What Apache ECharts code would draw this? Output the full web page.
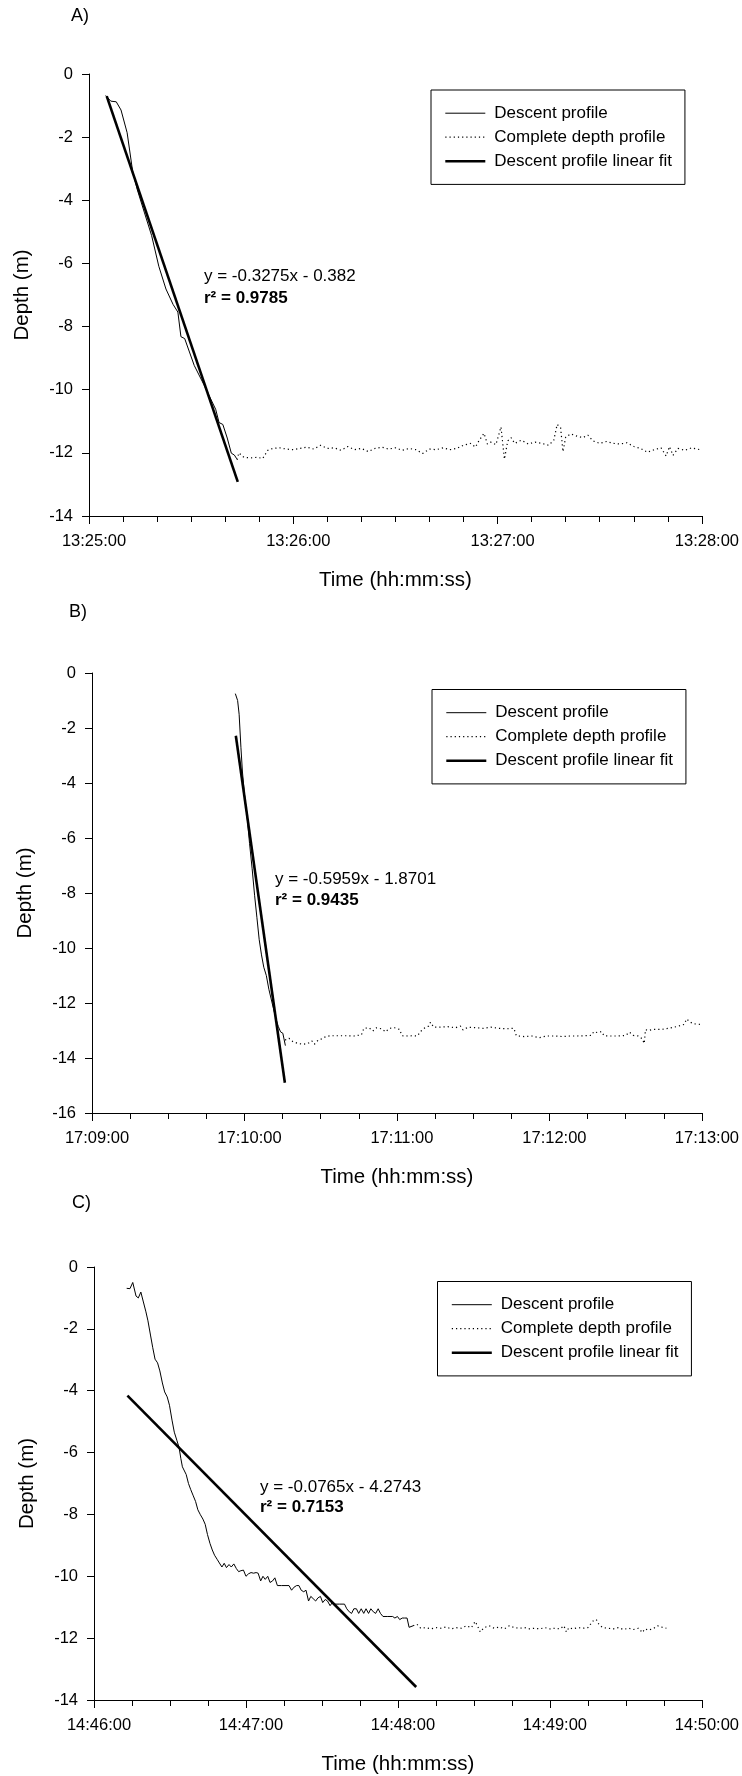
<!DOCTYPE html>
<html>
<head>
<meta charset="utf-8">
<script src="https://cdn.jsdelivr.net/npm/echarts@6/dist/echarts.min.js"></script>
<style>
html,body{margin:0;padding:0;background:#fff;}
#chart{width:742px;height:1776px;}
</style>
</head>
<body>
<div id="chart"></div>
<script>
// ---------- DATA (time in seconds after the first axis tick, depth in m) ----------
const panelTitles = ['A)', 'B)', 'C)'];
const axisStartSeconds = [13*3600+25*60, 17*3600+9*60, 14*3600+46*60];
const axisSpanSeconds = [180, 240, 240];
const minorSplits = [6, 4, 4];
const depthMin = [-14, -16, -14];
const equations = ['y = -0.3275x - 0.382', 'y = -0.5959x - 1.8701', 'y = -0.0765x - 4.2743'];
const r2Values = ['0.9785', '0.9435', '0.7153'];
const seriesNames = ['Descent profile', 'Complete depth profile', 'Descent profile linear fit'];

const descentA = [[4.9,-0.68],[6.4,-0.86],[8.0,-0.88],[9.4,-1.14],[11.2,-1.86],[12.8,-3.07],[14.2,-3.67],[16.3,-4.40],[18.4,-5.12],[20.5,-6.09],[22.6,-6.81],[24.7,-7.30],[26.1,-7.54],[27.0,-8.32],[28.1,-8.38],[30.9,-9.23],[33.7,-9.83],[37.2,-10.62],[38.2,-11.04],[39.3,-11.10],[40.6,-11.53],[41.8,-12.01],[42.7,-12.07],[43.4,-12.19]];
const completeA = [[43.5,-12.22],[44.0,-12.00],[45.5,-12.14],[47.5,-12.16],[49.5,-12.14],[51.0,-12.18],[52.5,-11.92],[54,-11.86],[56,-11.84],[58,-11.88],[60,-11.90],[62,-11.86],[64,-11.82],[66,-11.88],[68,-11.76],[70,-11.86],[72,-11.84],[74,-11.92],[76,-11.80],[78,-11.90],[80,-11.86],[82,-11.96],[84,-11.86],[86,-11.82],[88,-11.88],[90,-11.84],[92,-11.92],[94,-11.86],[96,-11.90],[98,-12.02],[100,-11.88],[102,-11.90],[104,-11.84],[106,-11.90],[108,-11.86],[110,-11.76],[112,-11.70],[113.5,-11.82],[114.5,-11.62],[116,-11.38],[117,-11.72],[118,-11.66],[119.5,-11.74],[121,-11.18],[122,-12.20],[123,-11.62],[124,-11.52],[125,-11.70],[127,-11.60],[129,-11.72],[131,-11.66],[133,-11.70],[135,-11.76],[136.5,-11.60],[137.5,-11.10],[138.5,-11.20],[139.2,-11.96],[140,-11.50],[141.5,-11.40],[143,-11.46],[145,-11.52],[146.5,-11.44],[148,-11.62],[150,-11.70],[152,-11.64],[154,-11.70],[156,-11.72],[158,-11.68],[160,-11.80],[162,-11.86],[164,-11.98],[166,-11.90],[168,-11.84],[169.5,-12.10],[170.5,-11.80],[171.5,-12.08],[173,-11.86],[175,-11.92],[177,-11.84],[179.5,-11.90]];
const fitA = [[5.2,-0.70],[43.7,-12.92]];

const descentB = [[56.4,-0.75],[57.3,-1.00],[57.9,-1.50],[58.6,-2.70],[59.2,-3.60],[60.2,-4.60],[61.1,-5.30],[62.0,-6.20],[63.0,-7.10],[64.0,-8.10],[64.9,-8.90],[65.8,-9.70],[66.7,-10.25],[67.6,-10.70],[68.6,-11.00],[69.6,-11.50],[70.5,-11.85],[71.4,-12.20],[72.3,-12.55],[73.3,-12.85],[74.2,-13.05],[75.1,-13.10],[76.1,-13.55]];
const completeB = [[76.0,-13.35],[77.5,-13.28],[79,-13.40],[81,-13.47],[83,-13.50],[85,-13.47],[86.5,-13.38],[87.5,-13.50],[89,-13.35],[90.5,-13.30],[92,-13.22],[94,-13.19],[97,-13.19],[100,-13.19],[103,-13.20],[106,-13.16],[107,-12.92],[109,-12.90],[110.5,-13.02],[112,-12.90],[114,-12.94],[115.5,-13.05],[117,-12.92],[119,-12.90],[121,-12.96],[122,-13.19],[124,-13.20],[126,-13.19],[128,-13.20],[129.5,-13.02],[131,-12.90],[132.5,-12.84],[133.2,-12.70],[134.5,-12.88],[137,-12.88],[140,-12.86],[143,-12.90],[145,-12.84],[146,-12.98],[148,-12.88],[151,-12.90],[154,-12.92],[157,-12.88],[160,-12.92],[163,-12.94],[166,-12.92],[167,-13.19],[170,-13.22],[173,-13.20],[176,-13.26],[179,-13.20],[182,-13.20],[185,-13.22],[188,-13.20],[191,-13.20],[194,-13.19],[196.5,-13.18],[197.5,-13.04],[199,-13.08],[200.5,-13.04],[201.5,-13.19],[204,-13.20],[207,-13.20],[210,-13.18],[211.5,-13.06],[213,-13.18],[215,-13.20],[216.5,-13.30],[217.3,-13.47],[217.8,-12.97],[219,-13.00],[221,-12.96],[224,-12.96],[227,-12.92],[230,-12.86],[233,-12.78],[234,-12.58],[235.5,-12.70],[237,-12.76],[239.6,-12.78]];
const fitB = [[56.6,-2.28],[75.9,-14.90]];

const descentC = [[12.9,-0.69],[14.2,-0.70],[15.3,-0.50],[16.6,-0.94],[17.5,-1.00],[18.5,-0.81],[19.4,-1.10],[20.5,-1.45],[21.3,-1.74],[22.3,-2.20],[23.2,-2.61],[24.1,-2.98],[25.1,-3.10],[26.0,-3.36],[27.0,-3.75],[27.9,-4.04],[28.9,-4.20],[29.8,-4.47],[30.8,-4.95],[31.7,-5.34],[32.7,-5.60],[33.6,-5.84],[34.3,-6.20],[34.9,-6.46],[36.4,-6.71],[37.3,-7.00],[38.2,-7.20],[39.2,-7.40],[40.1,-7.58],[41.0,-7.85],[42.0,-8.01],[43.0,-8.15],[43.9,-8.32],[44.8,-8.65],[45.8,-8.94],[46.7,-9.15],[47.6,-9.32],[48.6,-9.45],[49.5,-9.57],[50.5,-9.70],[51.4,-9.58],[52.3,-9.72],[53.3,-9.62],[54.2,-9.70],[55.2,-9.60],[56.2,-9.75],[57.1,-9.85],[58.0,-9.82],[59.0,-9.80],[60.0,-10.00],[61.0,-9.92],[62.0,-9.88],[63.0,-9.90],[64.0,-9.88],[64.8,-9.90],[65.8,-10.15],[66.7,-10.00],[67.6,-10.10],[68.6,-10.00],[69.5,-10.20],[70.5,-10.15],[71.4,-10.05],[72.4,-10.30],[74.0,-10.30],[76.2,-10.30],[77.0,-10.30],[78.0,-10.45],[79.0,-10.35],[80.0,-10.30],[80.9,-10.30],[81.8,-10.45],[82.8,-10.50],[83.7,-10.45],[84.7,-10.80],[85.6,-10.65],[86.5,-10.72],[87.5,-10.80],[88.4,-10.70],[89.4,-10.65],[90.3,-10.85],[91.3,-10.75],[92.2,-10.80],[93.2,-10.95],[94.1,-10.85],[95.1,-10.90],[97.0,-10.90],[98.9,-10.90],[99.8,-11.05],[100.8,-11.15],[101.7,-11.20],[102.6,-11.05],[103.6,-11.05],[104.5,-11.20],[105.5,-11.05],[106.5,-11.20],[107.4,-11.05],[108.4,-11.20],[109.3,-11.05],[110.3,-11.15],[111.2,-11.20],[112.2,-11.05],[113.1,-11.20],[114.1,-11.30],[116.0,-11.30],[117.9,-11.30],[118.8,-11.35],[119.8,-11.30],[120.7,-11.40],[121.7,-11.35],[122.6,-11.35],[123.6,-11.35],[124.4,-11.65],[125.1,-11.65],[126.0,-11.60]];
const completeC = [[126.0,-11.60],[127.5,-11.55],[129,-11.68],[131,-11.66],[133,-11.70],[135,-11.66],[137,-11.68],[139,-11.64],[141,-11.70],[143,-11.66],[145,-11.68],[147,-11.60],[149,-11.66],[150.5,-11.46],[151.5,-11.62],[152.5,-11.80],[154,-11.66],[156,-11.60],[158,-11.68],[160,-11.64],[162,-11.70],[164,-11.60],[166,-11.66],[168,-11.68],[170,-11.66],[172,-11.70],[174,-11.68],[176,-11.70],[178,-11.66],[180,-11.70],[182,-11.68],[184,-11.70],[185.5,-11.60],[186.5,-11.80],[187.5,-11.66],[189,-11.70],[191,-11.66],[193,-11.68],[195,-11.66],[196.5,-11.50],[197.5,-11.40],[198.5,-11.42],[199.5,-11.58],[201,-11.66],[203,-11.68],[205,-11.70],[207,-11.66],[209,-11.72],[211,-11.68],[213,-11.72],[215,-11.68],[216.5,-11.82],[217.5,-11.70],[219,-11.74],[221,-11.68],[222.5,-11.60],[224,-11.64],[226,-11.68]];
const fitC = [[13.2,-4.16],[127.2,-13.58]];

const descents = [descentA, descentB, descentC];
const completes = [completeA, completeB, completeC];
const fits = [fitA, fitB, fitC];

// ---------- LAYOUT ----------
const FONT = "'Liberation Sans', Arial, sans-serif";
const grids = [
  {left: 89, top: 74, width: 614, height: 442},
  {left: 92, top: 673, width: 612, height: 440},
  {left: 94, top: 1267, width: 610, height: 438}
];
const legendPos = [{left: 431, top: 90}, {left: 432, top: 689.5}, {left: 437.5, top: 1281.5}];
const titlePos = [{left: 71, top: 7}, {left: 69, top: 603}, {left: 72, top: 1194}];
const eqPos = [{x: 204, y: 277, y2: 298.6}, {x: 275, y: 879.7, y2: 901.2}, {x: 260, y: 1487.6, y2: 1507.8}];

function pad(n){ return (n < 10 ? '0' : '') + n; }
function fmtTime(base){
  return function(v){
    const s = Math.round(base + v);
    return pad(Math.floor(s/3600)) + ':' + pad(Math.floor(s/60) % 60) + ':' + pad(s % 60);
  };
}

const option = {
  animation: false,
  backgroundColor: '#fff',
  textStyle: {fontFamily: FONT, color: '#000'},
  title: [], grid: [], xAxis: [], yAxis: [], legend: [], series: [], graphic: []
};

for (let i = 0; i < 3; i++) {
  option.title.push({text: panelTitles[i], left: titlePos[i].left, top: titlePos[i].top, padding: 0,
    textStyle: {fontFamily: FONT, fontSize: 18, fontWeight: 'normal', color: '#000'}});
  option.grid.push(Object.assign({containLabel: false}, grids[i]));
  option.xAxis.push({
    type: 'value', gridIndex: i, min: 0, max: axisSpanSeconds[i], interval: 60,
    name: 'Time (hh:mm:ss)', nameLocation: 'middle', nameGap: 54,
    nameTextStyle: {fontFamily: FONT, fontSize: 20.5, color: '#000'},
    axisLine: {onZero: false, lineStyle: {color: '#000', width: 1}},
    axisTick: {show: true, length: 8, lineStyle: {color: '#000'}},
    minorTick: {show: true, splitNumber: minorSplits[i], length: 6, lineStyle: {color: '#000'}},
    splitLine: {show: false},
    axisLabel: {formatter: fmtTime(axisStartSeconds[i]), fontFamily: FONT, fontSize: 16.5, color: '#000', margin: 17,
      padding: [0, 0, 0, 10], showMaxLabel: true, showMinLabel: true}
  });
  option.yAxis.push({
    type: 'value', gridIndex: i, min: depthMin[i], max: 0, interval: 2,
    name: 'Depth (m)', nameLocation: 'middle', nameGap: 56, nameRotate: 90,
    nameTextStyle: {fontFamily: FONT, fontSize: 20.5, color: '#000'},
    axisLine: {show: true, onZero: false, lineStyle: {color: '#000', width: 1}},
    axisTick: {show: true, length: 7, lineStyle: {color: '#000'}},
    splitLine: {show: false},
    axisLabel: {fontFamily: FONT, fontSize: 16.5, color: '#000', margin: 16}
  });
  option.legend.push({
    left: legendPos[i].left, top: legendPos[i].top, orient: 'vertical',
    data: seriesNames, selectedMode: false,
    itemWidth: 40, itemHeight: 14, itemGap: 7,
    padding: [14.7, 13, 14.7, 13],
    borderColor: '#000', borderWidth: 1, backgroundColor: '#fff',
    itemStyle: {opacity: 0, borderWidth: 0, color: 'rgba(0,0,0,0)'},
    lineStyle: {width: 'inherit', type: 'inherit', color: 'inherit'},
    textStyle: {fontFamily: FONT, fontSize: 17, color: '#000', lineHeight: 14.5, padding: [0, 0, 0, 4]}
  });
  option.series.push({
    name: seriesNames[0], type: 'line', xAxisIndex: i, yAxisIndex: i, data: descents[i],
    symbol: 'none', z: 3, lineStyle: {color: '#000', width: 1}, itemStyle: {color: '#000'}
  });
  option.series.push({
    name: seriesNames[1], type: 'line', xAxisIndex: i, yAxisIndex: i, data: completes[i],
    symbol: 'none', z: 2, lineStyle: {color: '#000', width: 1.2, type: [1.2, 3]}, itemStyle: {color: '#000'}
  });
  option.series.push({
    name: seriesNames[2], type: 'line', xAxisIndex: i, yAxisIndex: i, data: fits[i],
    symbol: 'none', z: 4, lineStyle: {color: '#000', width: 2.6}, itemStyle: {color: '#000'}
  });
  option.graphic.push({type: 'text', left: eqPos[i].x, top: eqPos[i].y - 9,
    style: {text: equations[i], font: '17px ' + FONT, fill: '#000'}});
  option.graphic.push({type: 'text', left: eqPos[i].x, top: eqPos[i].y2 - 9,
    style: {text: 'r\u00B2 = ' + r2Values[i], font: 'bold 17px ' + FONT, fill: '#000'}});
}

const chart = echarts.init(document.getElementById('chart'), null, {renderer: 'canvas'});
chart.setOption(option);
</script>
</body>
</html>
